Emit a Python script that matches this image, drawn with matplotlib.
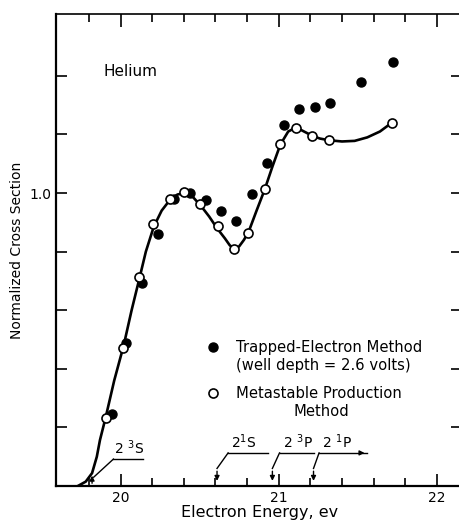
import matplotlib
matplotlib.use("Agg")
import matplotlib.pyplot as plt

# ---- data ----
trapped_x = [19.943, 20.036, 20.135, 20.236, 20.340, 20.437, 20.538, 20.633, 20.728,
             20.831, 20.928, 21.034, 21.128, 21.230, 21.327, 21.523, 21.722]
trapped_y = [0.245, 0.487, 0.692, 0.859, 0.978, 0.999, 0.977, 0.939, 0.905,
             0.996, 1.101, 1.231, 1.288, 1.295, 1.306, 1.380, 1.446]

meta_x = [19.907, 20.015, 20.118, 20.207, 20.312, 20.403, 20.502, 20.614, 20.717,
          20.804, 20.913, 21.008, 21.108, 21.213, 21.315, 21.713]
meta_y = [0.233, 0.470, 0.712, 0.895, 0.978, 1.004, 0.962, 0.886, 0.810,
          0.862, 1.014, 1.167, 1.223, 1.195, 1.181, 1.238]

# hand-drawn fit curve
curve_x = [19.73, 19.78, 19.82, 19.85, 19.87, 19.905, 19.96, 20.02, 20.07, 20.12,
           20.16, 20.21, 20.26, 20.31, 20.36, 20.41, 20.46, 20.51, 20.56, 20.61,
           20.66, 20.69, 20.72, 20.75, 20.78, 20.81, 20.86, 20.91, 20.96, 21.01,
           21.06, 21.11, 21.16, 21.21, 21.26, 21.32, 21.40, 21.48, 21.56, 21.64, 21.71]
curve_y = [0.0, 0.015, 0.044, 0.10, 0.157, 0.232, 0.36, 0.48, 0.60, 0.71,
           0.80, 0.885, 0.94, 0.975, 0.995, 1.0, 0.985, 0.955, 0.92, 0.88,
           0.845, 0.822, 0.808, 0.818, 0.84, 0.868, 0.94, 1.01, 1.09, 1.165,
           1.21, 1.224, 1.21, 1.196, 1.186, 1.18, 1.176, 1.178, 1.19, 1.21, 1.238]

# helium excitation levels (eV)
level_names = [r"$\mathregular{2\ ^3S}$", r"$\mathregular{2^1S}$",
               r"$\mathregular{2\ ^3P}$", r"$\mathregular{2\ ^1P}$"]
level_energy = [19.82, 20.61, 20.96, 21.22]

x_major = [20, 21, 22]
x_minor = [19.8, 20.2, 20.4, 20.6, 20.8, 21.2, 21.4, 21.6, 21.8]
y_ticks = [0.2, 0.4, 0.6, 0.8, 1.0, 1.2, 1.4]
y_ticklabels = ["", "", "", "", "1.0", "", ""]

plt.rcParams['font.family'] = ['DejaVu Sans']

fig = plt.figure(figsize=(4.59, 5.23), dpi=100)
ax = fig.add_axes([0.122, 0.0707, 0.885, 0.9025])

ax.plot(curve_x, curve_y, color='black', lw=1.9, zorder=2)
ax.plot(trapped_x, trapped_y, 'o', color='black', ms=6.5, zorder=3)
ax.plot(meta_x, meta_y, 'o', mfc='white', mec='black', mew=1.2, ms=6.5, zorder=4)

ax.set_xlim(19.592, 22.16)
ax.set_ylim(0, 1.611)

ax.set_xticks(x_major)
ax.set_xticklabels([str(v) for v in x_major], fontsize=10)
ax.set_xticks(x_minor, minor=True)
ax.set_yticks(y_ticks)
ax.set_yticklabels(y_ticklabels, fontsize=10)
ax.tick_params(axis='x', which='major', direction='in', length=9, width=1.2, top=True)
ax.tick_params(axis='x', which='minor', direction='in', length=5.5, width=1.2, top=True)
ax.tick_params(axis='y', which='major', direction='in', length=8, width=1.2, right=True)

for s in ['left', 'bottom']:
    ax.spines[s].set_linewidth(1.6)
ax.spines['top'].set_linewidth(1.2)
ax.spines['right'].set_visible(False)

ax.set_xlabel("Electron Energy, ev", fontsize=11.5, labelpad=0)
ax.set_ylabel("Normalized Cross Section", fontsize=10, labelpad=4)

ax.text(19.89, 1.416, "Helium", fontsize=11, va='center', ha='left')

# legend drawn by hand
ax.plot([20.586], [0.474], 'o', color='black', ms=6.5)
ax.plot([20.586], [0.317], 'o', mfc='white', mec='black', mew=1.2, ms=6.5)
ax.text(20.73, 0.474, "Trapped-Electron Method", fontsize=10.6, va='center')
ax.text(20.73, 0.41, "(well depth = 2.6 volts)", fontsize=10.6, va='center')
ax.text(20.73, 0.317, "Metastable Production", fontsize=10.6, va='center')
ax.text(21.27, 0.253, "Method", fontsize=10.6, va='center', ha='center')

# level markers
# 2 3S : arrow pointing up
e = level_energy[0]
ax.plot([e + 0.135, e + 0.325], [0.092, 0.092], color='black', lw=1)
ax.plot([e + 0.135, e + 0.01], [0.092, 0.03], color='black', lw=1)
ax.annotate("", xy=(e, 0.045), xytext=(e, 0.0),
            arrowprops=dict(arrowstyle='-|>', color='black', lw=1, mutation_scale=7))
ax.text(e + 0.14, 0.1, level_names[0], fontsize=10, va='bottom', ha='left')

# the other levels : arrows pointing down
offsets = [0.07, 0.045, 0.035]
lengths = [0.25, 0.215, 0.3]
for name, e, off, ln in zip(level_names[1:], level_energy[1:], offsets, lengths):
    ax.plot([e + off, e + off + ln], [0.113, 0.113], color='black', lw=1)
    ax.plot([e + off, e], [0.113, 0.06], color='black', lw=1)
    ax.annotate("", xy=(e, 0.008), xytext=(e, 0.06),
                arrowprops=dict(arrowstyle='-|>', color='black', lw=1, mutation_scale=7))
    ax.text(e + off + 0.02, 0.12, name, fontsize=10, va='bottom', ha='left')
# 2 1P line ends in an arrow to the right
ax.annotate("", xy=(21.56, 0.113), xytext=(21.50, 0.113),
            arrowprops=dict(arrowstyle='-|>', color='black', lw=1, mutation_scale=7))

fig.savefig("out.png", dpi=100)
